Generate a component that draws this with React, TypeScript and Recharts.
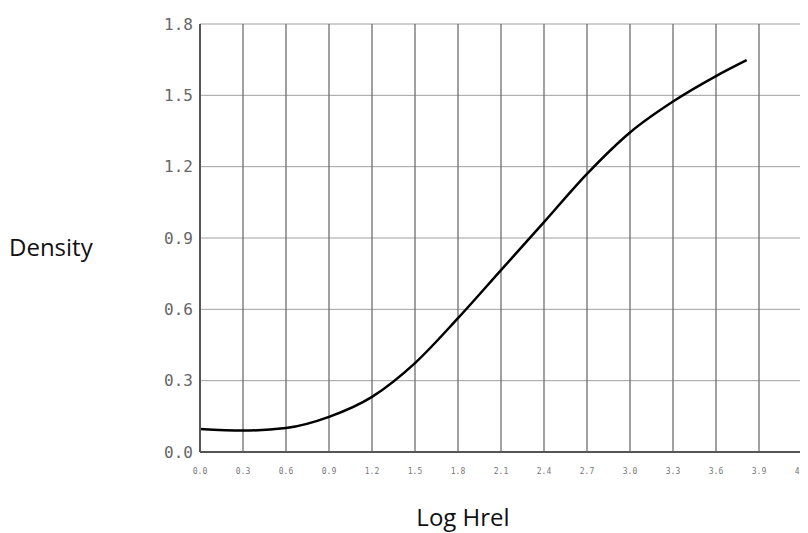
import React from 'react';
import { LineChart, Line, XAxis, YAxis, CartesianGrid, Label } from 'recharts';

const logHrel = [0, 0.3, 0.6, 0.9, 1.2, 1.5, 1.8, 2.1, 2.4, 2.7, 3.0, 3.3, 3.6, 3.814];
const density = [0.097, 0.09, 0.101, 0.148, 0.232, 0.374, 0.563, 0.765, 0.967, 1.17, 1.344, 1.474, 1.581, 1.648];
const xTicks = [0, 0.3, 0.6, 0.9, 1.2, 1.5, 1.8, 2.1, 2.4, 2.7, 3.0, 3.3, 3.6, 3.9, 4.2];
const yTicks = [0, 0.3, 0.6, 0.9, 1.2, 1.5, 1.8];

const data = logHrel.map((x, i) => ({ x, y: density[i] }));

export default function App() {
  return (
    <div style={{ width: 800, height: 525 }}>
      <LineChart width={800} height={525} data={data} margin={{ top: 16, right: 6, bottom: 0, left: 0 }}>
        <CartesianGrid horizontalValues={yTicks} vertical={false} stroke="#a0a0a0" strokeWidth={1} />
        <CartesianGrid verticalValues={xTicks} horizontal={false} stroke="#6e6e6e" strokeWidth={1.3} />
        <XAxis
          dataKey="x"
          type="number"
          domain={[0, 4.2]}
          ticks={xTicks}
          tickFormatter={(v: number) => v.toFixed(1)}
          height={81}
          tickSize={0}
          tickMargin={16}
          axisLine={{ stroke: '#555', strokeWidth: 2 }}
          tick={{ fontFamily: 'DejaVu Sans Mono', fontSize: 8, fill: '#777' }}
        >
          <Label value="Log Hrel" position="insideBottom" offset={7} dx={-38} style={{ fontFamily: 'Open Sans', fontSize: 24, fill: '#111' }} />
        </XAxis>
        <XAxis xAxisId="top" orientation="top" type="number" domain={[0, 4.2]} height={0} tick={false} tickLine={false} axisLine={{ stroke: '#555', strokeWidth: 2 }} />
        <YAxis
          type="number"
          domain={[0, 1.8]}
          ticks={yTicks}
          tickFormatter={(v: number) => v.toFixed(1)}
          width={192}
          tickSize={0}
          tickMargin={7}
          axisLine={{ stroke: '#555', strokeWidth: 2 }}
          tick={{ fontFamily: 'DejaVu Sans Mono', fontSize: 16, fill: '#666' }}
        >
          <Label value="Density" position="insideLeft" offset={1} dy={9} style={{ fontFamily: 'Open Sans', fontSize: 24, fill: '#111', textAnchor: 'start' }} />
        </YAxis>
        <YAxis yAxisId="right" orientation="right" type="number" domain={[0, 1.8]} width={0} tick={false} tickLine={false} axisLine={{ stroke: '#aaa', strokeWidth: 1 }} />
        <Line type="monotone" dataKey="y" stroke="#000" strokeWidth={2.5} dot={false} isAnimationActive={false} />
      </LineChart>
    </div>
  );
}
